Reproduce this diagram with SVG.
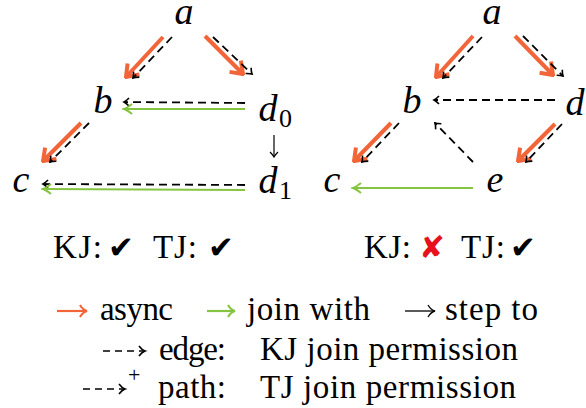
<svg xmlns="http://www.w3.org/2000/svg" width="586" height="408" viewBox="0 0 586 408">
<style>
.n{font-family:"Liberation Serif","DejaVu Serif",serif;font-style:italic;font-size:38px;fill:#000;text-anchor:middle}
.s{font-family:"Liberation Serif","DejaVu Serif",serif;font-size:26px;fill:#000}
.t{font-family:"Liberation Serif","DejaVu Serif",serif;font-size:33px;fill:#000}
.sym{font-family:"DejaVu Sans",sans-serif;font-size:31px}
.or{stroke:#F26539;stroke-width:4;fill:none;marker-end:url(#mo)}
.gr{stroke:#85C441;stroke-width:2;fill:none;marker-end:url(#mg)}
.da{stroke:#000;stroke-width:1.8;stroke-dasharray:8 5;fill:none;marker-end:url(#md)}
.st{stroke:#000;stroke-width:1.2;fill:none;marker-end:url(#ms)}
</style>
<defs>
<marker id="mo" markerUnits="userSpaceOnUse" viewBox="-14 -10 16 20" markerWidth="16" markerHeight="20" refX="0" refY="0" orient="auto">
<path d="M-11,-8 L0,0 L-11,8" stroke="#F26539" stroke-width="4" fill="none"/>
</marker>
<marker id="mg" markerUnits="userSpaceOnUse" viewBox="-10 -7 12 14" markerWidth="12" markerHeight="14" refX="0" refY="0" orient="auto">
<path d="M-8,-5 Q-3,-1 0,0 Q-3,1 -8,5" stroke="#85C441" stroke-width="2" fill="none"/>
</marker>
<marker id="md" markerUnits="userSpaceOnUse" viewBox="-8 -6 10 12" markerWidth="10" markerHeight="12" refX="0" refY="0" orient="auto">
<path d="M-5,-4 Q-2,-1 0,0 Q-2,1 -5,4" stroke="#000" stroke-width="1.6" fill="none"/>
</marker>
<marker id="ms" markerUnits="userSpaceOnUse" viewBox="-8 -6 10 12" markerWidth="10" markerHeight="12" refX="0" refY="0" orient="auto">
<path d="M-5,-4 Q-2,-1 0,0 Q-2,1 -5,4" stroke="#000" stroke-width="1.2" fill="none"/>
</marker>
</defs>
<rect width="586" height="408" fill="#fff"/>

<g id="left-nodes">
<g id="L-a"><text class="n" x="184" y="24">a</text></g>
<g id="L-b"><text class="n" x="103" y="113">b</text></g>
<g id="L-d0"><text class="n" x="268" y="121">d</text><text class="s" x="279" y="127">0</text></g>
<g id="L-c"><text class="n" x="21" y="192">c</text></g>
<g id="L-d1"><text class="n" x="268" y="193">d</text><text class="s" x="279" y="199">1</text></g>
</g>

<g id="right-nodes">
<g id="R-a"><text class="n" x="492" y="24">a</text></g>
<g id="R-b"><text class="n" x="412" y="113">b</text></g>
<g id="R-d"><text class="n" x="575" y="115">d</text></g>
<g id="R-c"><text class="n" x="332" y="192">c</text></g>
<g id="R-e"><text class="n" x="495" y="192">e</text></g>
</g>

<g id="connectors">
<line class="or" x1="163" y1="37" x2="126" y2="77"/>
<line class="da" x1="172" y1="37" x2="133" y2="78"/>
<line class="or" x1="205" y1="36" x2="243" y2="74"/>
<line class="da" x1="213" y1="37" x2="252" y2="74"/>
<line class="da" x1="245" y1="103" x2="124" y2="102"/>
<line class="gr" x1="245" y1="109" x2="124" y2="109"/>
<line class="st" x1="274" y1="135" x2="274" y2="157"/>
<line class="or" x1="81" y1="123" x2="43" y2="161"/>
<line class="da" x1="89" y1="123" x2="50" y2="162"/>
<line class="da" x1="245" y1="185" x2="43" y2="184"/>
<line class="gr" x1="245" y1="190" x2="43" y2="189"/>

<line class="or" x1="473" y1="36" x2="436" y2="77"/>
<line class="da" x1="482" y1="37" x2="443" y2="78"/>
<line class="or" x1="515" y1="36" x2="553" y2="75"/>
<line class="da" x1="523" y1="36" x2="563" y2="76"/>
<line class="da" x1="555" y1="100" x2="434" y2="100"/>
<line class="or" x1="391" y1="123" x2="354" y2="161"/>
<line class="da" x1="399" y1="123" x2="362" y2="162"/>
<line class="or" x1="555" y1="124" x2="518" y2="161"/>
<line class="da" x1="562" y1="124" x2="526" y2="162"/>
<line class="da" x1="473" y1="162" x2="435" y2="123"/>
<line class="gr" x1="473" y1="188" x2="353" y2="188"/>
</g>

<g id="verdicts">
<text class="t" x="53" y="258" textLength="49">KJ:</text>
<text class="sym" x="108" y="258">✔</text>
<text class="t" x="153" y="258" textLength="44">TJ:</text>
<text class="sym" x="208" y="258">✔</text>
<text class="t" x="364" y="258" textLength="47">KJ:</text>
<text class="sym" x="419" y="258" fill="#E8101A">✘</text>
<text class="t" x="461" y="258" textLength="44">TJ:</text>
<text class="sym" x="510" y="258">✔</text>
</g>

<g id="legend">
<line x1="57" y1="311" x2="86" y2="311" stroke="#F26539" stroke-width="2.2"/>
<path d="M80,305 Q83,310 87,311 Q83,312 80,317" stroke="#F26539" stroke-width="2.2" fill="none"/>
<text class="t" x="100" y="320" textLength="73">async</text>
<line x1="207" y1="311" x2="234" y2="311" stroke="#85C441" stroke-width="2.2"/>
<path d="M228,305 Q231,310 235,311 Q231,312 228,317" stroke="#85C441" stroke-width="2.2" fill="none"/>
<text class="t" x="247" y="320" textLength="123">join with</text>
<line x1="405" y1="311" x2="434" y2="311" stroke="#000" stroke-width="1.3"/>
<path d="M428,305 Q431,310 435,311 Q431,312 428,317" stroke="#000" stroke-width="1.3" fill="none"/>
<text class="t" x="445" y="320" textLength="93">step to</text>

<line x1="103" y1="351" x2="143" y2="351" stroke="#000" stroke-width="1.6" stroke-dasharray="7 5"/>
<path d="M139,346 Q142,350 145,351 Q142,352 139,356" stroke="#000" stroke-width="1.6" fill="none"/>
<text class="t" x="159" y="360" textLength="67">edge:</text>
<text class="t" x="260" y="360" textLength="258">KJ join permission</text>

<line x1="83" y1="389" x2="123" y2="389" stroke="#000" stroke-width="1.6" stroke-dasharray="7 5"/>
<path d="M119,384 Q122,388 125,389 Q122,390 119,394" stroke="#000" stroke-width="1.6" fill="none"/>
<text class="s" x="128" y="382" style="font-size:22px">+</text>
<text class="t" x="158" y="398" textLength="68">path:</text>
<text class="t" x="260" y="398" textLength="256">TJ join permission</text>
</g>
</svg>
